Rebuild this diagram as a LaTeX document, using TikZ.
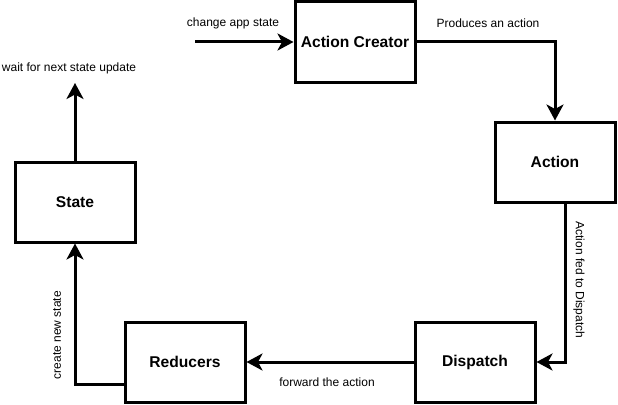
\documentclass[tikz,border=0pt]{standalone}
\usepackage{fontspec}
\setmainfont{Liberation Sans}
\usetikzlibrary{arrows.meta,calc}
\begin{document}
\begin{tikzpicture}[x=1pt,y=-1pt,
  box/.style={draw=black,line width=3pt,minimum width=120pt,minimum height=80pt,inner sep=0pt,font=\fontsize{15.6}{18}\selectfont\bfseries},
  conn/.style={line width=3pt,-{Stealth[length=16pt,width=17pt,inset=4.5pt]}},
  lbl/.style={font=\fontsize{12}{14}\selectfont,inner sep=0pt}]
\useasboundingbox (0,0) rectangle (618,404);
\node[box] (ac) at (355,42) {Action Creator};
\node[box] (action) at (555,162) {Action};
\node[box] (dispatch) at (475,362) {Dispatch};
\node[box] (reducers) at (185,362) {Reducers};
\node[box] (state) at (75,202) {State};
\coordinate (in) at (195,42);
\coordinate (wait) at (75,83);
\draw[conn] (in) -- (ac);
\draw[conn] (ac.east) -| (action.north);
\draw[conn] ($(action.south)+(10,0)$) |- (dispatch.east);
\draw[conn] (dispatch) -- (reducers);
\draw[conn] ($(reducers.west)+(0,22)$) -| (state.south);
\draw[conn] (state.north) -- (wait);
\node[lbl] (l1) at (233,23) {change app state};
\node[lbl] (l2) at (488,23) {Produces an action};
\node[lbl] (l3) at (69,68) {wait for next state update};
\node[lbl] (l4) at (327,382) {forward the action};
\node[lbl,rotate=-90] (l5) at (579,280) {Action fed to Dispatch};
\node[lbl,rotate=90] (l6) at (57,335) {create new state};
\end{tikzpicture}
\end{document}
